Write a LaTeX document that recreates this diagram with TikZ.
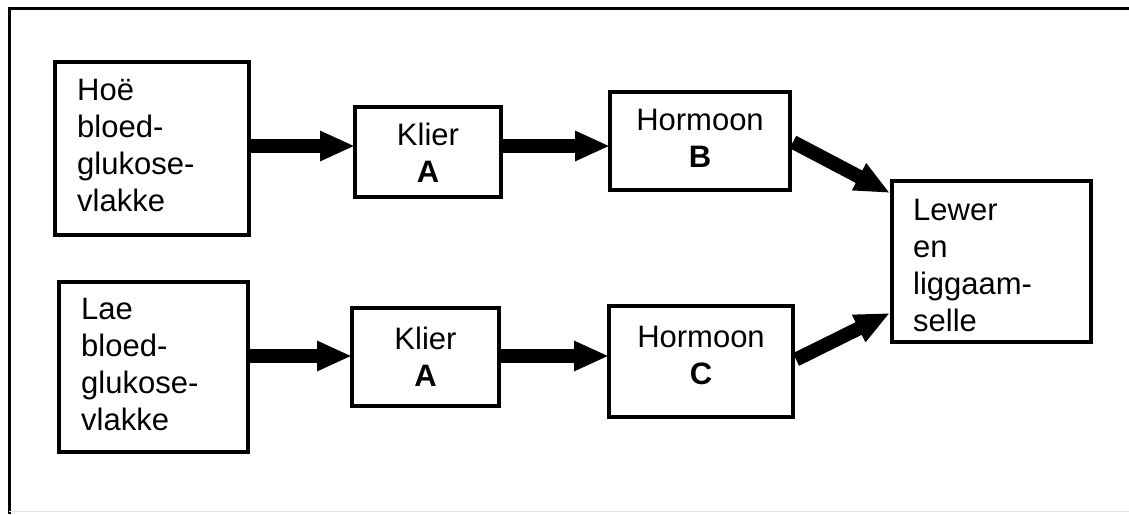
\documentclass[tikz,border=0pt]{standalone}
\usepackage{fontspec}
\setmainfont{Liberation Sans}
\usetikzlibrary{arrows.meta,calc}
\begin{document}
\begin{tikzpicture}[x=1pt,y=-1pt,
  box/.style={draw=black,line width=4pt,inner sep=0pt,outer sep=0pt},
  txt/.style={inner sep=0pt,font=\fontsize{31}{37}\selectfont},
  txtl/.style={txt,anchor=base west,align=left},
  txtc/.style={txt,anchor=base,align=center},
  arr/.style={line width=14pt,-{Triangle[length=35pt,width=28pt]}},
  frame/.style={line width=3pt}]
\useasboundingbox (0,0) rectangle (1129,514);
% outer frame
\draw[frame] (1129,8) -- (9,8) -- (9,514);
\draw[line width=1.5pt,black!12] (9,511.5) -- (1129,511.5);
% boxes
\node[box,minimum width=194pt,minimum height=173pt] (hoe) at (152,148.5) {};
\node[box,minimum width=189pt,minimum height=170pt] (lae) at (153.5,367) {};
\node[box,minimum width=146pt,minimum height=90pt] (ka1) at (428,152) {};
\node[box,minimum width=147pt,minimum height=98pt] (ka2) at (425.5,357) {};
\node[box,minimum width=180pt,minimum height=98pt] (hb) at (700,141) {};
\node[box,minimum width=184pt,minimum height=111pt] (hc) at (701,361.5) {};
\node[box,minimum width=199pt,minimum height=161pt] (lewer) at (991.5,261.5) {};
% texts (anchored at the baseline of the last line)
\node[txtl] (t1) at (77,211.5) {Hoë\\bloed-\\glukose-\\vlakke};
\node[txtl] (t2) at (81,430) {Lae\\bloed-\\glukose-\\vlakke};
\node[txtc] (t3) at (428,182) {Klier\\\textbf{A}};
\node[txtc] (t4) at (425.5,386) {Klier\\\textbf{A}};
\node[txtc] (t5) at (700,167) {Hormoon\\\textbf{B}};
\node[txtc] (t6) at (701,384) {Hormoon\\\textbf{C}};
\node[txtl] (t7) at (913,331) {Lewer\\en\\liggaam-\\selle};
% arrows
\draw[arr] (hoe.east |- 0,146) -- (ka1.west |- 0,146);
\draw[arr] (ka1.east |- 0,146) -- (hb.west |- 0,146);
\draw[arr] (lae.east |- 0,356) -- (ka2.west |- 0,356);
\draw[arr] (ka2.east |- 0,356) -- (hc.west |- 0,356);
\draw[arr] ([shift={(3,1)}]hb.east) -- ([shift={(-2,12)}]lewer.north west);
\draw[arr] ([shift={(3,-2)}]hc.east) -- ([shift={(-2,-29)}]lewer.south west);
\end{tikzpicture}
\end{document}
